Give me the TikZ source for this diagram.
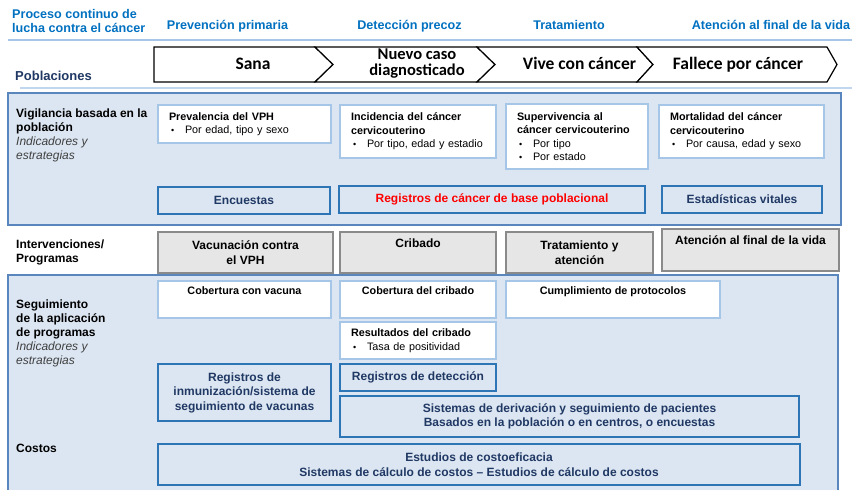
\documentclass[tikz,border=0pt]{standalone}
\usepackage{xcolor}
\usepackage{fontspec}
\setmainfont{Liberation Sans}
\newfontfamily\calibri{Carlito}
\usepackage{tikz}

\definecolor{azulcab}{HTML}{0070C0}
\definecolor{marino}{HTML}{203864}
\definecolor{fondo}{HTML}{DCE6F2}
\definecolor{bordepanel}{HTML}{5A86BE}
\definecolor{celeste}{HTML}{A6C6E8}
\definecolor{azulcaja}{HTML}{2E75B6}
\definecolor{gris}{HTML}{E6E6E6}
\definecolor{grisborde}{HTML}{8A8A8A}

\newcommand{\chico}{\fontsize{10.8}{13.5}\selectfont}
\newcommand{\mediano}{\fontsize{12}{14.5}\selectfont}
\newcommand{\itm}[1]{\hspace*{2pt}\makebox[14pt][l]{\small\textbullet}#1}

\begin{document}
\begin{tikzpicture}[x=1pt,y=-1pt,
	cab/.style={text=azulcab, font=\fontsize{12.6}{14}\selectfont\bfseries, inner sep=0pt},
	chev/.style={draw=black, fill=white, line width=1.2pt},
	chevtxt/.style={font=\calibri\bfseries\fontsize{17.5}{15}\selectfont, inner sep=0pt, align=center},
	panel/.style={draw=bordepanel, fill=fondo, line width=1.3pt},
	etiq/.style={anchor=north west, align=left, inner sep=0pt, font=\fontsize{12}{14}\selectfont},
	dato/.style={draw=celeste, fill=white, line width=1.4pt, anchor=north west, outer sep=0pt,
		inner xsep=11pt, inner ysep=0pt, align=left, font=\chico},
	datoc/.style={draw=celeste, fill=white, line width=1.4pt, anchor=north west, outer sep=0pt,
		inner sep=0pt, align=center, font=\chico\bfseries},
	fuente/.style={draw=azulcaja, line width=1.8pt, anchor=north west, outer sep=0pt,
		inner sep=0pt, align=center, text=marino, font=\mediano\bfseries},
	prog/.style={draw=grisborde, fill=gris, line width=1.4pt, anchor=north west, outer sep=0pt,
		inner sep=0pt, align=center, font=\mediano\bfseries}]
\useasboundingbox (0,0) rectangle (852,490);
%1. Encabezado: etapas del proceso
\node[cab, anchor=north west, align=left] (proceso) at (12,9) {Proceso continuo de\\lucha contra el cáncer};
\foreach \loc/\nom/\txt in
	{227.5/prim/Prevención primaria, 409.5/prec/Detección precoz,
	 569/trat/Tratamiento, 771/fin/Atención al final de la vida}
	{\node[cab, anchor=base] (\nom) at (\loc,29) {\txt};}
\draw[celeste, line width=1.5pt] (8,40) -- (852,40);
\draw[celeste!70, line width=1.5pt] (20,88) -- (852,88);

%2. Poblaciones (flechas)
\node[anchor=base west, inner sep=0pt, text=marino, font=\fontsize{13}{15}\selectfont\bfseries] (pobl) at (15,80) {Poblaciones};
\draw[chev] (154,47) -- (315,47) -- (333,64.5) -- (315,82) -- (154,82) -- cycle;
\foreach \a/\n/\b/\c in {315/333/477/495, 477/495/637/653, 637/653/827/837}
	{\draw[chev] (\a,47) -- (\b,47) -- (\c,64.5) -- (\b,82) -- (\a,82) -- (\n,64.5) -- cycle;}
\node[chevtxt, anchor=base] (sana) at (253,69.3) {Sana};
\node[chevtxt, anchor=north, font=\calibri\bfseries\fontsize{16.5}{16}\selectfont] (nuevo) at (417,48.9) {Nuevo caso\\diagnosticado};
\node[chevtxt, anchor=base] (vive) at (579.5,69.3) {Vive con cáncer};
\node[chevtxt, anchor=base] (fallece) at (738,69.3) {Fallece por cáncer};

%3. Vigilancia basada en la población
\draw[panel] (8,93) rectangle (841,225);
\node[etiq] (vigil) at (16,108.2) {\textbf{Vigilancia basada en la}\\\textbf{población}\\\textcolor{black!75}{\textit{Indicadores y}}\\\textcolor{black!75}{\textit{estrategias}}};
\node[dato, text width=151pt, minimum height=38pt] (vph) at (158,105)
	{\textbf{Prevalencia del VPH}\\\itm{Por edad, tipo y sexo}};
\node[dato, text width=134pt, minimum height=53pt] (incid) at (340,105)
	{\textbf{Incidencia del cáncer}\\\textbf{cervicouterino}\\\itm{Por tipo, edad y estadio}};
\node[dato, text width=120pt, minimum height=65pt] (superv) at (506,104)
	{\textbf{Supervivencia al}\\\textbf{cáncer cervicouterino}\\\itm{Por tipo}\\\itm{Por estado}};
\node[dato, text width=143pt, minimum height=53pt] (mort) at (659,105)
	{\textbf{Mortalidad del cáncer}\\\textbf{cervicouterino}\\\itm{Por causa, edad y sexo}};
\node[fuente, minimum width=172pt, minimum height=27pt] (encu) at (158,187) {Encuestas};
\node[fuente, minimum width=306pt, minimum height=27pt, text=red] (regcan) at (339,186) {Registros de cáncer de base poblacional};
\node[fuente, minimum width=160pt, minimum height=27pt] (estad) at (662,186) {Estadísticas vitales};

%4. Intervenciones / programas
\node[etiq] (interv) at (16,239.3) {\textbf{Intervenciones/}\\\textbf{Programas}};
\node[prog, minimum width=175pt, minimum height=41pt] (vacu) at (158,232) {Vacunación contra\\el VPH};
\node[prog, minimum width=156pt, minimum height=41pt] (crib) at (340,232) {Cribado\\\strut};
\node[prog, minimum width=147pt, minimum height=41pt] (tratam) at (506,232) {Tratamiento y\\atención};
\node[prog, minimum width=177pt, minimum height=42pt] (atenc) at (662,229) {Atención al final de la vida\\\strut};

%5. Seguimiento de la aplicación de programas y costos
\draw[panel] (8,275) rectangle (838,500);
\node[etiq] (segui) at (16,300) {\textbf{Seguimiento}\\\textbf{de la aplicación}\\\textbf{de programas}\\\textcolor{black!75}{\textit{Indicadores y}}\\\textcolor{black!75}{\textit{estrategias}}};
\node[anchor=base west, inner sep=0pt, font=\fontsize{12}{14}\selectfont\bfseries] (costos) at (16,452) {Costos};
\node[datoc, minimum width=173pt, minimum height=37pt] (cobvac) at (158,281) {Cobertura con vacuna\\\strut};
\node[datoc, minimum width=156pt, minimum height=37pt] (cobcrib) at (340,281) {Cobertura del cribado\\\strut};
\node[datoc, minimum width=214pt, minimum height=37pt] (cumpl) at (506,281) {Cumplimiento de protocolos\\\strut};
\node[dato, text width=134pt, minimum height=37pt] (result) at (340,322)
	{\textbf{Resultados del cribado}\\\itm{Tasa de positividad}};
\node[fuente, minimum width=173pt, minimum height=57pt] (reginm) at (158,364) {Registros de\\inmunización/sistema de\\seguimiento de vacunas};
\node[fuente, minimum width=156pt, minimum height=27pt] (regdet) at (340,364) {Registros de detección};
\node[fuente, minimum width=459pt, minimum height=41pt] (deriv) at (340,396) {Sistemas de derivación y seguimiento de pacientes\\Basados en la población o en centros, o encuestas};
\node[fuente, minimum width=642pt, minimum height=41pt] (estud) at (158,444) {Estudios de costoeficacia\\Sistemas de cálculo de costos -- Estudios de cálculo de costos};
\end{tikzpicture}
\end{document}
